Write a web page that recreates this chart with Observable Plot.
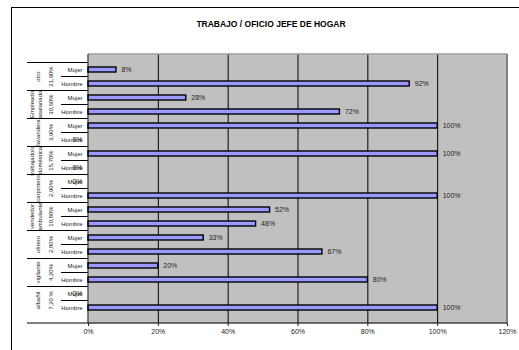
<!DOCTYPE html>
<html><head><meta charset="utf-8">
<script src="https://cdn.jsdelivr.net/npm/d3@7"></script>
<script src="https://cdn.jsdelivr.net/npm/@observablehq/plot@0.6"></script>
<style>
body{margin:0;background:#fff;font-family:"Liberation Sans",Arial,sans-serif;}
#wrap{position:relative;width:519px;height:350px;overflow:hidden;}
#box{position:absolute;left:11px;top:7px;width:600px;height:400px;border:1px solid #000;box-sizing:border-box;}
#title{position:relative;width:542px;height:21px;padding-top:19px;text-align:center;font-weight:bold;font-size:8.5px;line-height:10px;color:#000;}
#chart{position:relative;}
#chart svg{display:block;}
</style></head><body>
<div id="wrap"><div id="box"></div>
<div id="title">TRABAJO / OFICIO JEFE DE HOGAR</div>
<div id="chart"></div></div>
<script>
// ---- data ----
const categories = ["otro", "Empleado\nasalariado", "lavandera", "trabajadora\ndoméstica", "carpintero", "vendedor\nambulante", "obrero", "vigilante", "albañil"];
const categoryShares = ["21,90%", "30,60%", "3,90%", "15,70%", "2,90%", "10,80%", "2,80%", "4,20%", "7,20 %"];
const sexes = ["Mujer", "Hombre"];
const mujerValues = [8, 28, 100, 100, 0, 52, 33, 20, 0];
const hombreValues = [92, 72, 0, 0, 100, 48, 67, 80, 100];
const xTicks = [0, 20, 40, 60, 80, 100, 120];
const gridTicks = [20, 40, 60, 80, 100];

const rows = [];
categories.forEach((c, i) => {
  rows.push({cat: c, sex: "Mujer", key: c + "|Mujer", value: mujerValues[i]});
  rows.push({cat: c, sex: "Hombre", key: c + "|Hombre", value: hombreValues[i]});
});
const keys = rows.map(d => d.key);
const pct = d => d.value + "%";

// left-side category table + frame borders, drawn with Plot's y scale
function leftTable(index, scales, values, dims) {
  const y = scales.y;
  const bw = typeof y.bandwidth === "function" ? y.bandwidth() : y.bandwidth;
  const step = y(keys[1]) - y(keys[0]);
  const ml = dims.marginLeft, mt = dims.marginTop;
  const right = dims.width - dims.marginRight, bottom = dims.height - dims.marginBottom;
  const g = d3.create("svg:g").attr("font-family", "Liberation Sans Narrow, Liberation Sans, Arial, sans-serif");
  categories.forEach((c, i) => {
    const top = y(c + "|Mujer") + bw / 2 - step / 2;
    const mid = top + step;
    g.append("line").attr("x1", ml - 61).attr("x2", ml).attr("y1", top).attr("y2", top).attr("stroke", "#000").attr("stroke-width", 1);
    g.append("line").attr("x1", ml - 27).attr("x2", ml).attr("y1", mid).attr("y2", mid).attr("stroke", "#000").attr("stroke-width", 1);
    const lines = c.split("\n");
    const cx = lines.length > 1 ? ml - 52 : ml - 50;
    const t = g.append("text").attr("transform", `translate(${cx},${mid}) rotate(-90)`)
      .attr("text-anchor", "middle").attr("font-size", 6).attr("fill", "#222");
    lines.forEach((l, j) => {
      t.append("tspan").attr("x", 0).attr("y", (j - (lines.length - 1) / 2) * 8.5).attr("dy", "0.32em").text(l);
    });
    g.append("text").attr("transform", `translate(${ml - 37},${mid}) rotate(-90)`)
      .attr("text-anchor", "middle").attr("dy", "0.32em").attr("font-size", 6).attr("fill", "#222").text(categoryShares[i]);
  });
  g.append("line").attr("x1", ml - 61).attr("x2", ml).attr("y1", bottom).attr("y2", bottom).attr("stroke", "#000");
  // plot-area borders
  g.append("line").attr("x1", ml).attr("x2", right).attr("y1", mt).attr("y2", mt).attr("stroke", "#9a9a9a").attr("stroke-width", 1.5);
  g.append("line").attr("x1", right).attr("x2", right).attr("y1", mt).attr("y2", bottom).attr("stroke", "#808080").attr("stroke-width", 2);
  g.append("line").attr("x1", ml).attr("x2", right).attr("y1", bottom).attr("y2", bottom).attr("stroke", "#000");
  g.append("line").attr("x1", ml).attr("x2", ml).attr("y1", mt).attr("y2", bottom).attr("stroke", "#000");
  return g.node();
}

const chart = Plot.plot({
  width: 519,
  height: 310,
  marginLeft: 88,
  marginRight: 12,
  marginTop: 14,
  marginBottom: 27,
  style: {fontFamily: "Liberation Sans, Arial, sans-serif", fontSize: "7px", color: "#222", background: "transparent", overflow: "visible"},
  x: {domain: [0, 120], ticks: xTicks, tickFormat: d => d + "%", tickSize: 3, tickPadding: 3, label: null},
  y: {domain: keys, paddingInner: 0.62, paddingOuter: 0.31, axis: null},
  marks: [
    Plot.frame({fill: "#c0c0c0", stroke: null}),
    Plot.ruleX(gridTicks, {stroke: "#000", strokeWidth: 1, strokeOpacity: 1}),
    Plot.barX(rows.filter(d => d.value > 0), {x: "value", y: "key", fill: "#9999ff", stroke: "#000", strokeWidth: 1.4}),
    Plot.text(rows.filter(d => d.value > 0), {x: "value", y: "key", text: pct, textAnchor: "start", dx: 5, fontSize: 7, fill: "#222"}),
    Plot.text(rows, {y: "key", text: "sex", frameAnchor: "left", textAnchor: "end", dx: -6, fontSize: 6, fill: "#222"}),
    Plot.text(rows.filter(d => d.value === 0), {x: "value", y: "key", text: pct, textAnchor: "end", dx: -6, fontSize: 7, fill: "#222"}),
    leftTable
  ]
});
document.getElementById("chart").appendChild(chart);
</script>
</body></html>
